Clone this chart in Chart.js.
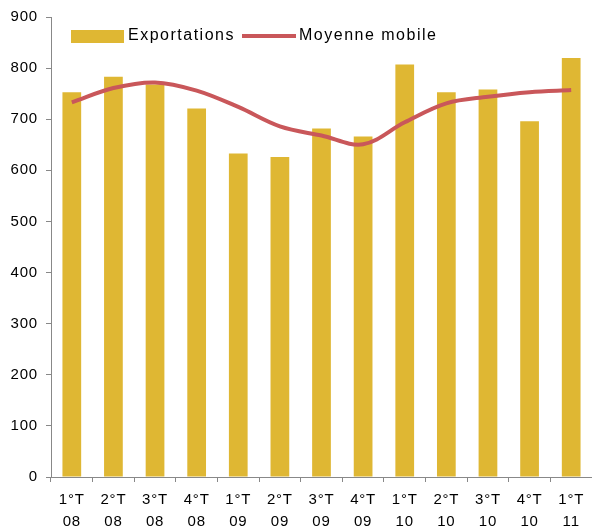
<!DOCTYPE html>
<html>
<head>
<meta charset="utf-8">
<script src="https://cdn.jsdelivr.net/npm/chart.js@4/dist/chart.umd.min.js"></script>
<style>
  html, body { margin: 0; padding: 0; background: #fff; }
  #wrap { width: 592px; height: 526px; position: relative; }
</style>
</head>
<body>
<div id="wrap"><canvas id="chart"></canvas></div>
<script>
const quarters = [
    ["1°T", "08"], ["2°T", "08"], ["3°T", "08"], ["4°T", "08"],
    ["1°T", "09"], ["2°T", "09"], ["3°T", "09"], ["4°T", "09"],
    ["1°T", "10"], ["2°T", "10"], ["3°T", "10"], ["4°T", "10"],
    ["1°T", "11"]
];
const exportations = [753, 783, 768, 721, 633, 626, 682, 666, 807, 753, 758, 696, 820];
const moyenneMobile = [733, 761, 772, 756, 724, 686, 668, 651, 694, 731, 744, 753, 757];
const yTicks = [0, 100, 200, 300, 400, 500, 600, 700, 800, 900];

const gold = "#DFB733";
const red = "#C9575A";
const font = "Liberation Sans, Arial, sans-serif";

// the original text is a bit spaced out
const spacing = {
    id: "spacing",
    beforeDraw(chart) { chart.ctx.letterSpacing = "0.8px"; }
};

// legend drawn inside the plot area, like the original
const innerLegend = {
    id: "innerLegend",
    afterDraw(chart) {
        const ctx = chart.ctx;
        const bars = chart.data.datasets.find(d => d.type !== "line");
        const line = chart.data.datasets.find(d => d.type === "line");
        ctx.save();
        ctx.letterSpacing = "1.5px";
        ctx.font = "16px " + font;
        ctx.textBaseline = "middle";
        const y = 36;
        ctx.fillStyle = gold;
        ctx.fillRect(71, 30, 53, 13);
        ctx.fillStyle = "#000";
        ctx.fillText(bars.label, 128, y);
        ctx.strokeStyle = red;
        ctx.lineWidth = 4;
        ctx.beginPath();
        ctx.moveTo(242, y);
        ctx.lineTo(296, y);
        ctx.stroke();
        ctx.fillText(line.label, 299, y);
        ctx.restore();
    }
};

new Chart(document.getElementById("chart"), {
    type: "bar",
    data: {
        labels: quarters,
        datasets: [
            {
                type: "line",
                label: "Moyenne mobile",
                data: moyenneMobile,
                borderColor: red,
                borderWidth: 4,
                pointRadius: 0,
                tension: 0.35,
                fill: false,
                order: 0
            },
            {
                label: "Exportations",
                data: exportations,
                backgroundColor: gold,
                categoryPercentage: 0.9,
                barPercentage: 0.5,
                order: 1
            }
        ]
    },
    options: {
        responsive: true,
        maintainAspectRatio: false,
        animation: false,
        layout: { padding: { top: 15, right: 0, left: 0, bottom: 0 } },
        plugins: {
            legend: { display: false },
            tooltip: { enabled: false }
        },
        scales: {
            x: {
                offset: true,
                grid: {
                    offset: true,
                    drawOnChartArea: false,
                    drawTicks: true,
                    tickLength: 5,
                    color: "#888"
                },
                border: { color: "#888", width: 1 },
                ticks: {
                    color: "#000",
                    font: { family: font, size: 15, lineHeight: 1.45 },
                    maxRotation: 0,
                    autoSkip: false,
                    padding: 7
                },
                afterFit: s => { s.height = 49; }
            },
            y: {
                min: 0,
                max: 900,
                afterBuildTicks: s => { s.ticks = yTicks.map(v => ({ value: v })); },
                grid: {
                    drawOnChartArea: false,
                    drawTicks: true,
                    tickLength: 5,
                    color: "#888"
                },
                border: { color: "#888", width: 1 },
                ticks: {
                    color: "#000",
                    font: { family: font, size: 15 },
                    padding: 8
                },
                afterFit: s => { s.width = 51; }
            }
        }
    },
    plugins: [spacing, innerLegend]
});
</script>
</body>
</html>
